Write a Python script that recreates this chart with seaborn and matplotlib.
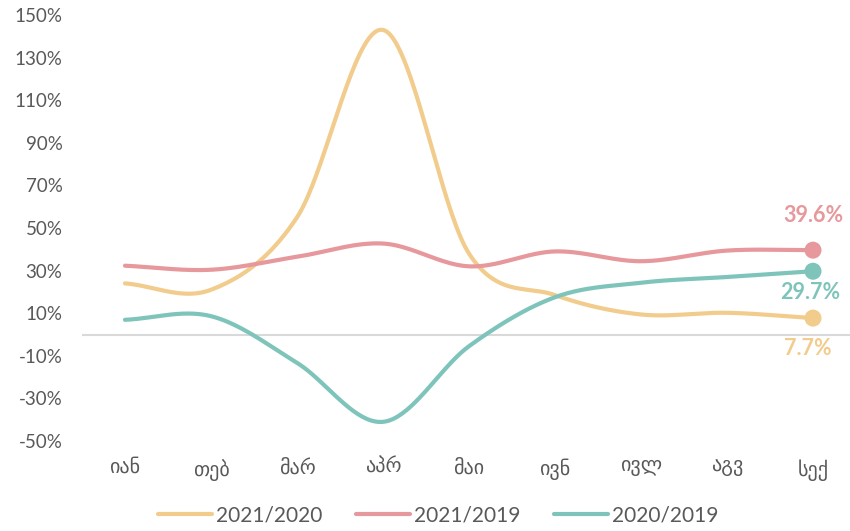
import numpy as np
import pandas as pd
import seaborn as sns
import matplotlib
matplotlib.use("Agg")
import matplotlib.pyplot as plt

months = ["იან", "თებ", "მარ", "აპრ", "მაი", "ივნ", "ივლ", "აგვ", "სექ"]
series_names = ["2021/2020", "2021/2019", "2020/2019"]
v_2021_2020 = [24, 21, 55, 143, 38, 18.5, 9.4, 10.2, 7.7]
v_2021_2019 = [32.3, 30.4, 36.5, 42.7, 32, 39, 34.4, 39.4, 39.6]
v_2020_2019 = [6.9, 8.6, -13.3, -41, -5.5, 17.5, 24.3, 27, 29.7]
end_labels = ["7.7%", "39.6%", "29.7%"]
colors = ["#F2CC8C", "#E6989C", "#7FC4BB"]

sns.set_theme(style="white")
plt.rcParams['font.family'] = ['Lato', 'DejaVu Sans']


def smooth(vals, n=40):
    """Catmull-Rom (Excel-like) smoothing through the data points."""
    p = np.asarray(vals, dtype=float)
    pts = np.concatenate([[2 * p[0] - p[1]], p, [2 * p[-1] - p[-2]]])
    xs, ys = [], []
    for i in range(len(p) - 1):
        p0, p1, p2, p3 = pts[i], pts[i + 1], pts[i + 2], pts[i + 3]
        c1 = p1 + (p2 - p0) / 6
        c2 = p2 - (p3 - p1) / 6
        t = np.linspace(0, 1, n, endpoint=(i == len(p) - 2))
        y = (1 - t) ** 3 * p1 + 3 * (1 - t) ** 2 * t * c1 + 3 * (1 - t) * t ** 2 * c2 + t ** 3 * p2
        xs.append(i + t)
        ys.append(y)
    return np.concatenate(xs), np.concatenate(ys)


frames = []
for name, vals in zip(series_names, [v_2021_2020, v_2021_2019, v_2020_2019]):
    x, y = smooth(vals)
    frames.append(pd.DataFrame({"x": x, "y": y, "series": name}))
df = pd.concat(frames, ignore_index=True)

fig = plt.figure(figsize=(8.5, 5.31), dpi=100)
ax = fig.add_axes([82 / 850, 90 / 531, 774 / 850, 426 / 531])

ax.axhline(0, color="#D9D9D9", lw=1.5, zorder=0)
sns.lineplot(data=df, x="x", y="y", hue="series", palette=dict(zip(series_names, colors)),
             lw=3, ax=ax, sort=False, estimator=None)

last = pd.DataFrame({
    "x": [len(months) - 1] * 3,
    "y": [v_2021_2020[-1], v_2021_2019[-1], v_2020_2019[-1]],
    "series": series_names,
})
sns.scatterplot(data=last, x="x", y="y", hue="series", palette=dict(zip(series_names, colors)),
                s=150, edgecolor="none", ax=ax, legend=False, zorder=5)

offsets = [(-4, -22), (0, 25), (-2, -15)]
for (yv, lab, c, off) in zip(last["y"], end_labels, colors, offsets):
    ax.annotate(lab, (len(months) - 1, yv), xytext=off, textcoords="offset points",
                ha="center", va="center", color=c, fontsize=15.5, fontweight="bold")

ax.set_xlim(-0.5, len(months) - 0.5)
ax.set_ylim(-50, 150)
ax.set_yticks(np.arange(-50, 151, 20))
ax.set_yticklabels([f"{t}%" for t in range(-50, 151, 20)])
ax.set_xticks(range(len(months)))
ax.set_xticklabels(months)
ax.tick_params(axis="y", colors="#595959", labelsize=13.5, length=0, pad=14)
ax.tick_params(axis="x", colors="#595959", labelsize=14.5, length=0, pad=13)
for s in ax.spines.values():
    s.set_visible(False)
ax.set_xlabel("")
ax.set_ylabel("")

h, l = ax.get_legend_handles_labels()
leg = ax.legend(h, l, loc="center", bbox_to_anchor=(438 / 850, 16 / 531),
                bbox_transform=fig.transFigure, ncol=3, frameon=False,
                fontsize=15, handlelength=2.6, handletextpad=0.2, columnspacing=1.6)
for t in leg.get_texts():
    t.set_color("#595959")
for ln in leg.get_lines():
    ln.set_linewidth(3)

fig.savefig("out.png", dpi=100)
